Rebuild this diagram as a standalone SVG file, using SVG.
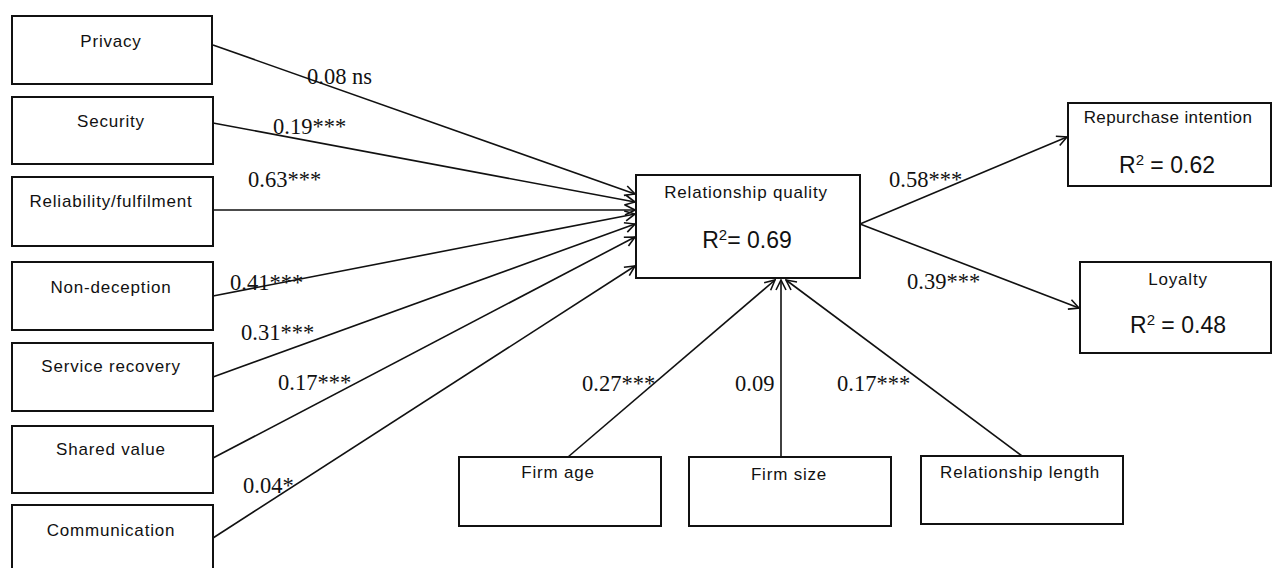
<svg xmlns="http://www.w3.org/2000/svg" width="1272" height="568" viewBox="0 0 1272 568">
<style>
.box{fill:#fff;stroke:#111;stroke-width:2}
.lbl{font-family:"Liberation Sans",Arial,sans-serif;font-size:17px;letter-spacing:0.8px;fill:#111;text-anchor:middle}
.r2{font-family:"Liberation Sans",Arial,sans-serif;font-size:23px;fill:#111;text-anchor:middle}
.sup{font-size:15px}
.coef{font-family:"Liberation Serif","Times New Roman",serif;font-size:22.5px;fill:#111}
.edge{stroke:#111;stroke-width:1.6;fill:none;marker-end:url(#arr)}
</style>
<defs>
<marker id="arr" markerUnits="userSpaceOnUse" markerWidth="12" markerHeight="12" viewBox="0 0 12 12" refX="11" refY="6" orient="auto">
<path d="M1,1 L11,6 L1,11" fill="none" stroke="#111" stroke-width="1.6"/>
</marker>
</defs>
<rect width="1272" height="568" fill="#fff"/>
<g id="connectors">
<line class="edge" x1="213" y1="45" x2="635" y2="194"/>
<line class="edge" x1="213" y1="123" x2="635" y2="202"/>
<line class="edge" x1="213" y1="210" x2="635" y2="210"/>
<line class="edge" x1="213" y1="296" x2="635" y2="214"/>
<line class="edge" x1="213" y1="377" x2="635" y2="224"/>
<line class="edge" x1="213" y1="458" x2="635" y2="237"/>
<line class="edge" x1="213" y1="538" x2="635" y2="266"/>
<line class="edge" x1="568" y1="457" x2="775" y2="280"/>
<line class="edge" x1="781" y1="457" x2="781" y2="280"/>
<line class="edge" x1="1022" y1="456" x2="786" y2="280"/>
<line class="edge" x1="860" y1="224" x2="1067" y2="137"/>
<line class="edge" x1="860" y1="224" x2="1079" y2="308"/>
<text class="coef" x="307" y="84">0.08 ns</text>
<text class="coef" x="273" y="134">0.19***</text>
<text class="coef" x="248" y="187">0.63***</text>
<text class="coef" x="230" y="290">0.41***</text>
<text class="coef" x="241" y="340">0.31***</text>
<text class="coef" x="278" y="390">0.17***</text>
<text class="coef" x="243" y="493">0.04*</text>
<text class="coef" x="582" y="391">0.27***</text>
<text class="coef" x="735" y="391">0.09</text>
<text class="coef" x="837" y="391">0.17***</text>
<text class="coef" x="889" y="187">0.58***</text>
<text class="coef" x="907" y="289">0.39***</text>
</g>
<g id="privacy"><rect class="box" x="12" y="16" width="200" height="68"/><text class="lbl" x="111" y="47">Privacy</text></g>
<g id="security"><rect class="box" x="12" y="97" width="201" height="67"/><text class="lbl" x="111" y="127">Security</text></g>
<g id="reliability"><rect class="box" x="12" y="177" width="201" height="69"/><text class="lbl" x="111" y="207">Reliability/fulfilment</text></g>
<g id="non-deception"><rect class="box" x="12" y="262" width="201" height="68"/><text class="lbl" x="111" y="293">Non-deception</text></g>
<g id="service-recovery"><rect class="box" x="12" y="343" width="201" height="68"/><text class="lbl" x="111" y="372">Service recovery</text></g>
<g id="shared-value"><rect class="box" x="12" y="426" width="201" height="67"/><text class="lbl" x="111" y="455">Shared value</text></g>
<g id="communication"><rect class="box" x="12" y="505" width="201" height="75"/><text class="lbl" x="111" y="536">Communication</text></g>
<g id="relationship-quality"><rect class="box" x="636" y="175" width="224" height="103"/><text class="lbl" x="746" y="198">Relationship quality</text><text class="r2" x="747" y="248">R<tspan class="sup" dy="-8">2</tspan><tspan dy="8">= 0.69</tspan></text></g>
<g id="repurchase-intention"><rect class="box" x="1068" y="103" width="203" height="83"/><text class="lbl" x="1168" y="123" style="letter-spacing:0.4px">Repurchase intention</text><text class="r2" x="1167" y="173">R<tspan class="sup" dy="-8">2</tspan><tspan dy="8"> = 0.62</tspan></text></g>
<g id="loyalty"><rect class="box" x="1080" y="262" width="191" height="91"/><text class="lbl" x="1178" y="285">Loyalty</text><text class="r2" x="1178" y="333">R<tspan class="sup" dy="-8">2</tspan><tspan dy="8"> = 0.48</tspan></text></g>
<g id="firm-age"><rect class="box" x="459" y="457" width="202" height="69"/><text class="lbl" x="558" y="478">Firm age</text></g>
<g id="firm-size"><rect class="box" x="689" y="457" width="202" height="69"/><text class="lbl" x="789" y="480">Firm size</text></g>
<g id="relationship-length"><rect class="box" x="921" y="456" width="202" height="68"/><text class="lbl" x="1020" y="478">Relationship length</text></g>
</svg>
